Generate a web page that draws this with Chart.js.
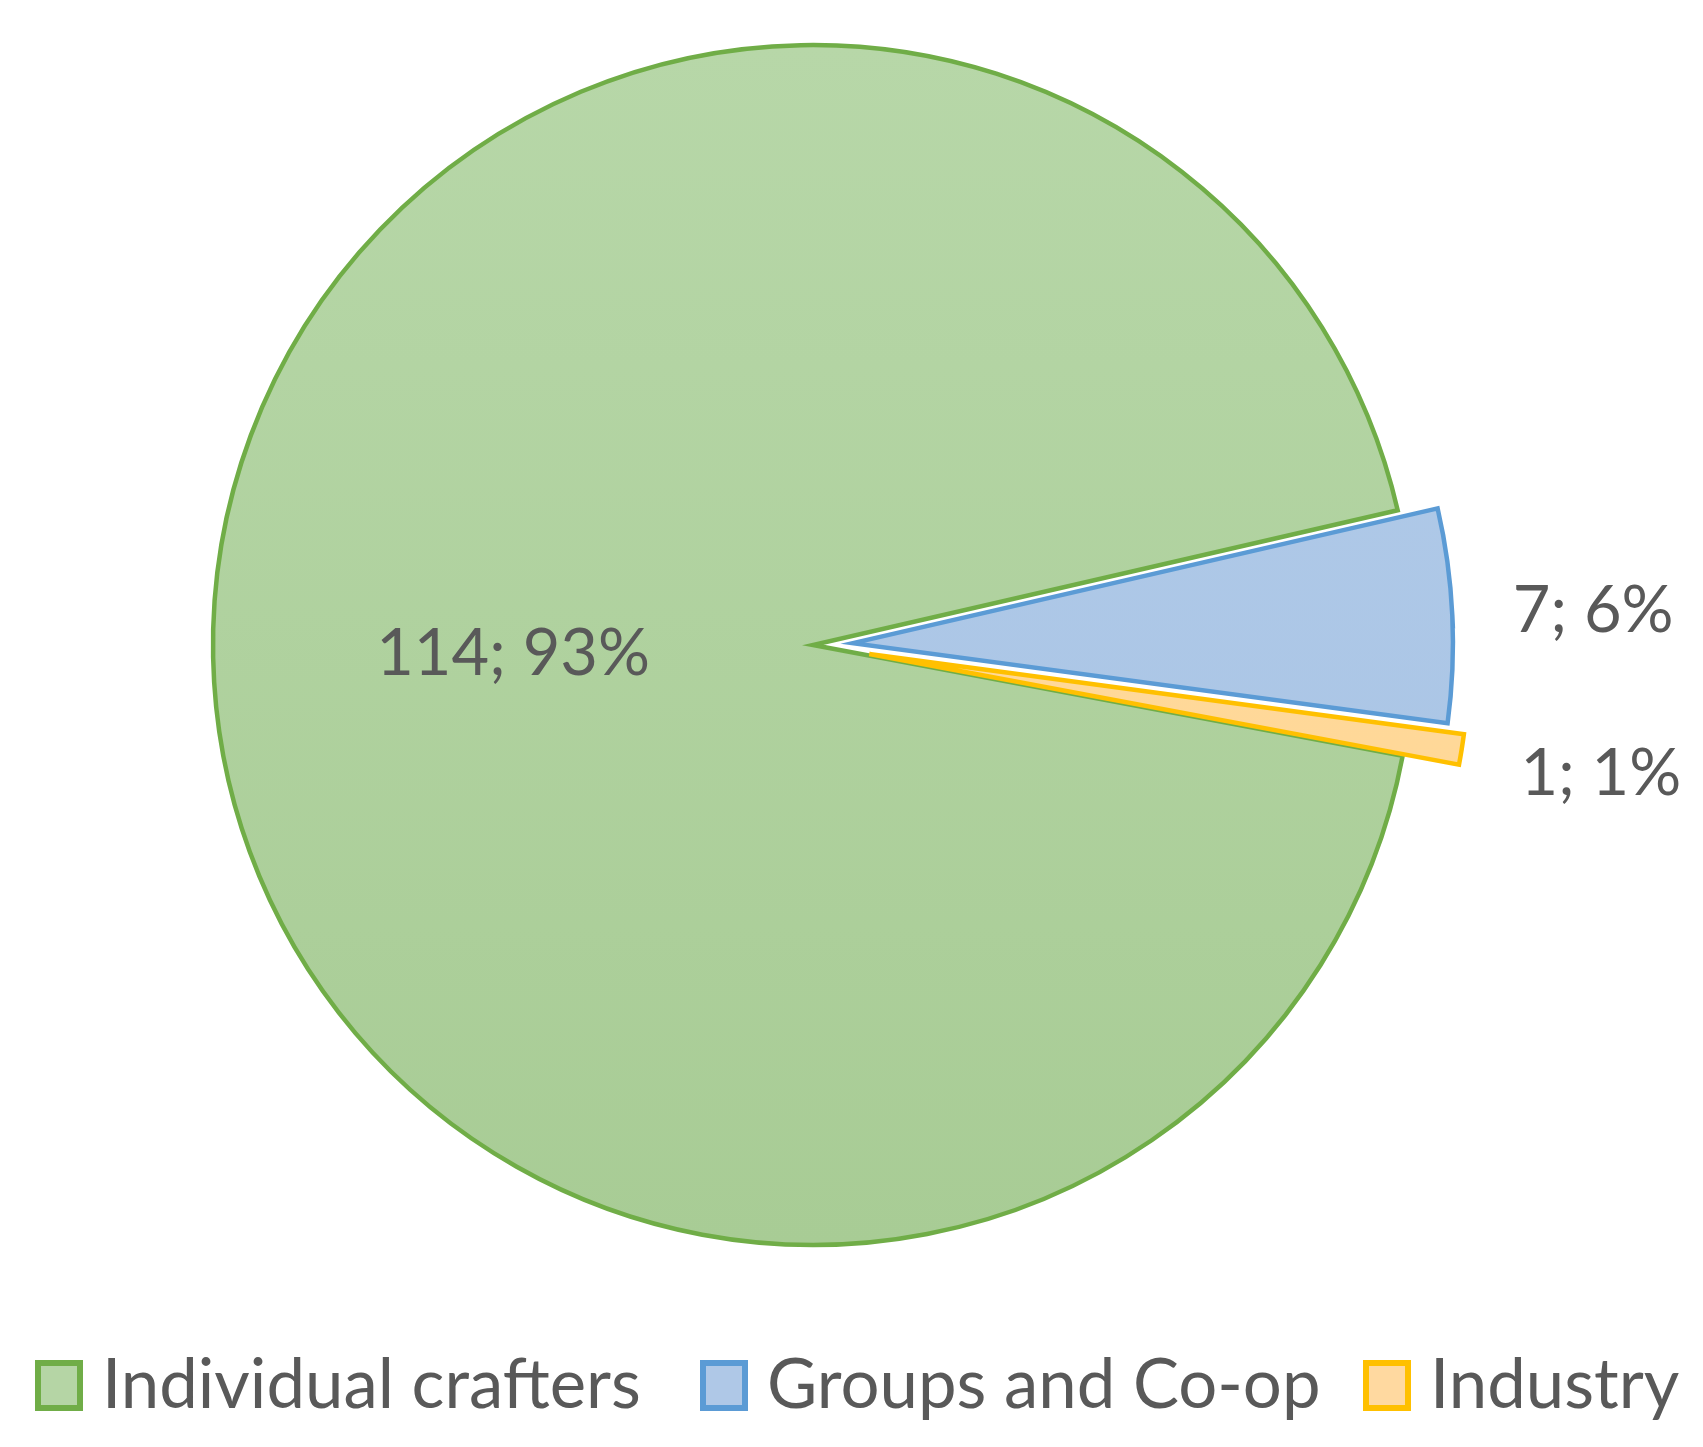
<!DOCTYPE html>
<html>
<head>
<meta charset="utf-8">
<script src="https://cdn.jsdelivr.net/npm/chart.js@4/dist/chart.umd.min.js"></script>
<style>
  html, body { margin: 0; padding: 0; background: #ffffff; }
  canvas { display: block; }
</style>
</head>
<body>
<canvas id="c" width="1703" height="1447"></canvas>
<script>
// ---- data ----
const categories = ['Individual crafters', 'Groups and Co-op', 'Industry'];
const counts = [114, 7, 1];

// ---- styles ----
const borderColors = ['#70AD47', '#5B9BD5', '#FFC000'];
const fillTop = ['#B7D7A8', '#B3CCEA', '#FFDCA3'];
const fillBottom = ['#A8CC95', '#A6C2E3', '#FFD590'];
const legendFill = ['#B5D5A5', '#AFC8E7', '#FFD9A0'];
const explode = [0, 40, 57];          // px the slice is pulled out along its mid-angle
const labelRadiusFactor = [0.5, 1.235, 1.235];
const legendBoxX = [35, 700, 1363];
const FONT = 'Lato, "Open Sans", sans-serif';
const TEXT_COLOR = '#595959';

const total = counts.reduce((a, b) => a + b, 0);

function sliceFill(context) {
  const chart = context.chart;
  const area = chart.chartArea;
  const i = context.dataIndex;
  if (!area) return fillTop[i];
  const cy = (area.top + area.bottom) / 2;
  const g = chart.ctx.createLinearGradient(0, cy - 600, 0, cy + 600);
  g.addColorStop(0, fillTop[i]);
  g.addColorStop(1, fillBottom[i]);
  return g;
}

const explodePlugin = {
  id: 'explode',
  beforeDatasetDraw(chart, args) {
    const ctx = chart.ctx;
    args.meta.data.forEach((arc, i) => {
      const mid = (arc.startAngle + arc.endAngle) / 2;
      ctx.save();
      ctx.translate(Math.cos(mid) * explode[i], Math.sin(mid) * explode[i]);
      arc.draw(ctx);
      ctx.restore();
    });
    return false;
  }
};

function fitSize(ctx, text, targetWidth) {
  ctx.font = '100px ' + FONT;
  return 100 * targetWidth / ctx.measureText(text).width;
}

const labelPlugin = {
  id: 'sliceLabels',
  afterDatasetsDraw(chart) {
    const ctx = chart.ctx;
    const meta = chart.getDatasetMeta(0);
    const size = fitSize(ctx, '114; 93%', 274);
    ctx.save();
    ctx.font = size.toFixed(1) + 'px ' + FONT;
    ctx.fillStyle = TEXT_COLOR;
    ctx.textAlign = 'center';
    ctx.textBaseline = 'alphabetic';
    const cap = ctx.measureText('1').actualBoundingBoxAscent;
    meta.data.forEach((arc, i) => {
      const mid = (arc.startAngle + arc.endAngle) / 2;
      const cx = arc.x + Math.cos(mid) * explode[i];
      const cy = arc.y + Math.sin(mid) * explode[i];
      const r = arc.outerRadius * labelRadiusFactor[i];
      const x = cx + Math.cos(mid) * r;
      const y = cy + Math.sin(mid) * r;
      const pct = Math.round(counts[i] / total * 100);
      ctx.fillText(counts[i] + '; ' + pct + '%', x, y + cap / 2);
    });
    ctx.restore();
  }
};

const legendPlugin = {
  id: 'bottomLegend',
  afterDraw(chart) {
    const ctx = chart.ctx;
    const size = fitSize(ctx, categories[0], 539);
    ctx.save();
    ctx.font = size.toFixed(1) + 'px ' + FONT;
    const boxW = 48, boxH = 51, lw = 6, gapBoxText = 19;
    const boxTop = 1360;
    const baseline = 1408;
    categories.forEach((t, i) => {
      const x = legendBoxX[i];
      ctx.fillStyle = legendFill[i];
      ctx.fillRect(x + lw / 2, boxTop + lw / 2, boxW - lw, boxH - lw);
      ctx.strokeStyle = borderColors[i];
      ctx.lineWidth = lw;
      ctx.lineJoin = 'miter';
      ctx.strokeRect(x + lw / 2, boxTop + lw / 2, boxW - lw, boxH - lw);
      ctx.fillStyle = TEXT_COLOR;
      ctx.textAlign = 'left';
      ctx.textBaseline = 'alphabetic';
      ctx.fillText(t, x + boxW + gapBoxText, baseline);
    });
    ctx.restore();
  }
};

new Chart(document.getElementById('c'), {
  type: 'pie',
  data: {
    labels: categories,
    datasets: [{
      data: counts,
      backgroundColor: sliceFill,
      borderColor: borderColors,
      borderWidth: 4.5,
      borderJoinStyle: 'miter',
      offset: 0
    }]
  },
  options: {
    responsive: false,
    animation: false,
    devicePixelRatio: 1,
    rotation: 100.63,
    radius: 600,
    layout: { padding: { left: 0, top: 0, right: 77, bottom: 157 } },
    plugins: {
      legend: { display: false },
      tooltip: { enabled: false }
    }
  },
  plugins: [explodePlugin, labelPlugin, legendPlugin]
});
</script>
</body>
</html>
